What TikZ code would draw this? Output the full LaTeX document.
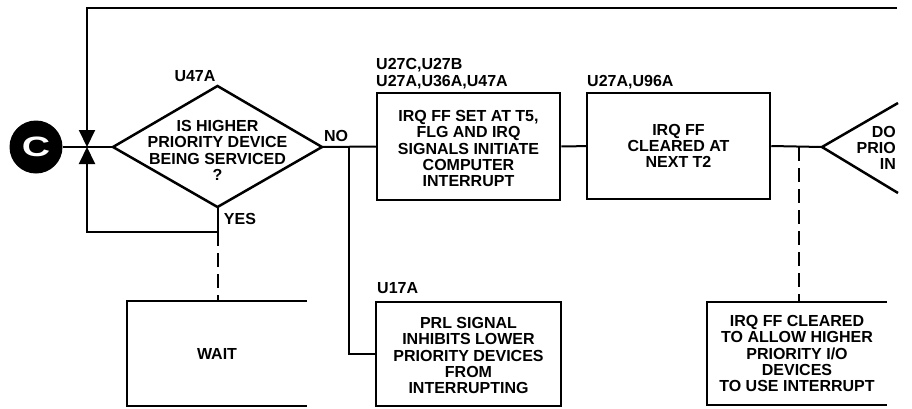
\documentclass[tikz,border=0pt]{standalone}
\usepackage{fontspec}
\setmainfont{Liberation Sans}
\usetikzlibrary{arrows.meta}
\begin{document}
\begin{tikzpicture}[x=1pt,y=-1pt,
  every node/.style={font=\fontsize{16}{16.3}\selectfont\bfseries, inner sep=0pt},
  boxshape/.style={draw, line width=2.5pt, align=center},
  openbox/.style={line width=2.5pt},
  link/.style={line width=2pt},
  dashlink/.style={line width=2pt, dash pattern=on 14pt off 7pt},
  tipdown/.style={-{Triangle[length=17pt 0 0,width=16pt 0 0]}},
]
\useasboundingbox (0,0) rectangle (912,408);

% connector C
\node[circle, fill=black, minimum size=53pt, text=white,
      font=\fontsize{28}{28}\selectfont\bfseries] (c) at (36,147) {\scalebox{1.4}[1]{C}};

% decision diamond
\coordinate (dL) at (113,147);
\coordinate (dT) at (217.5,86);
\coordinate (dR) at (322,147);
\coordinate (dB) at (217.5,207);
\draw[line width=2.5pt] (dL) -- (dT) -- (dR) -- (dB) -- cycle;
\node[align=center] (q) at (217.5,150.5) {IS HIGHER\\PRIORITY DEVICE\\BEING SERVICED\\?};
\node (u47) at (195,76) {U47A};
\node (no) at (336,136) {NO};
\node (yes) at (240,219) {YES};

% process boxes
\node[boxshape, minimum width=183pt, minimum height=107pt] (b1) at (468.5,146.5) {};
\node[align=center] (b1t) at (468.5,148.5)
  {IRQ FF SET AT T5,\\FLG AND IRQ\\SIGNALS INITIATE\\COMPUTER\\INTERRUPT};
\node[anchor=west, align=left] (l1) at (376,73.5) {U27C,U27B\\U27A,U36A,U47A};

\node[boxshape, minimum width=183pt, minimum height=106pt] (b2) at (678.5,146)
  {IRQ FF\\CLEARED AT\\NEXT T2};
\node[anchor=west] (l2) at (587,82) {U27A,U96A};

\node[boxshape, minimum width=185pt, minimum height=104pt] (prl) at (468.5,354) {};
\node[align=center] (prlt) at (468.5,355.5)
  {PRL SIGNAL\\INHIBITS LOWER\\PRIORITY DEVICES\\FROM\\INTERRUPTING};
\node[anchor=west] (l3) at (377,288) {U17A};

% open (cut-off) boxes
\node[minimum width=180pt, minimum height=105pt] (wait) at (217,353.5) {WAIT};
\draw[openbox] (wait.north east) -- (wait.north west) -- (wait.south west) -- (wait.south east);

\node[minimum width=180pt, minimum height=103pt, align=center] (clr) at (797,353.5)
  {IRQ FF CLEARED\\TO ALLOW HIGHER\\PRIORITY I/O\\DEVICES\\TO USE INTERRUPT};
\draw[openbox] (clr.north east) -- (clr.north west) -- (clr.south west) -- (clr.south east);

% cut-off decision at right
\coordinate (tv) at (822,147);
\coordinate (tu) at (898,103);
\coordinate (td) at (898,193);
\draw[line width=2.5pt] (tu) -- (tv) -- (td);
\node[anchor=east, align=right] (dotext) at (896,148) {DO\\PRIO\\IN};

% connectors
\coordinate (bt) at (87,147);
\coordinate (topL) at (87,8);
\coordinate (topR) at (897,8);
\coordinate (yj) at (217.5,232);
\coordinate (lj) at (87,232);
\coordinate (nj) at (349,147);
\coordinate (cj) at (799,147);

\draw[link] (c) -- (dL);
\draw[link, tipdown] (topR) -- (topL) -- (bt);
\draw[link, tipdown] (dB) -- (yj) -- (lj) -- (bt);
\draw[link] (dR) -- (b1.west);
\draw[link] (nj) |- (prl.west);
\draw[link] (b1) -- (b2);
\draw[link] (b2.east) -- (tv);
\draw[dashlink] (cj) -- (cj |- clr.north);
\draw[dashlink] (yj) -- (yj |- wait.north);
\end{tikzpicture}
\end{document}
